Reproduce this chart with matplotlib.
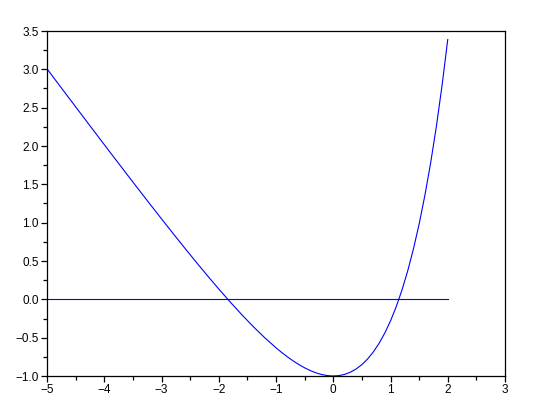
import matplotlib
matplotlib.use("Agg")
import matplotlib.pyplot as plt
from matplotlib.ticker import MultipleLocator, FuncFormatter

x_vals = [-5.0, -4.8, -4.6, -4.4, -4.2, -4.0, -3.8, -3.6, -3.4, -3.2, -3.0,
          -2.8, -2.6, -2.4, -2.2, -2.0, -1.8, -1.6, -1.4, -1.2, -1.0,
          -0.9, -0.8, -0.7, -0.6, -0.5, -0.4, -0.3, -0.2, -0.1, 0.0,
          0.1, 0.2, 0.3, 0.4, 0.5, 0.6, 0.7, 0.8, 0.9, 1.0,
          1.1, 1.2, 1.3, 1.4, 1.5, 1.6, 1.7, 1.8, 1.9, 2.0]
y_vals = [3.0067, 2.8082, 2.6101, 2.4123, 2.2150, 2.0183, 1.8224, 1.6273, 1.4334, 1.2408, 1.0498,
          0.8608, 0.6743, 0.4907, 0.3108, 0.1353, -0.0347, -0.1981, -0.3534, -0.4988, -0.6321,
          -0.6934, -0.7507, -0.8034, -0.8512, -0.8935, -0.9297, -0.9592, -0.9813, -0.9952, -1.0,
          -0.9948, -0.9786, -0.9501, -0.9082, -0.8513, -0.7779, -0.6862, -0.5745, -0.4404, -0.2817,
          -0.0958, 0.1201, 0.3693, 0.6552, 0.9817, 1.3530, 1.7739, 2.2496, 2.7859, 3.3891]
zero_x = [-5.0, 2.0]
zero_y = [0.0, 0.0]

plt.rcParams['font.family'] = ['Liberation Sans', 'DejaVu Sans']
fig = plt.figure(figsize=(5.33, 4.11), dpi=100)
ax = fig.add_axes([47/533, 1-376/411, (505-47)/533, (376-31)/411])

ax.plot(x_vals, y_vals, color=(0, 0, 1), lw=0.8)
ax.plot(zero_x, zero_y, color=(0, 0, 1), lw=0.8)

ax.set_xlim(-5, 3)
ax.set_ylim(-1, 3.5)
ax.xaxis.set_major_locator(MultipleLocator(1))
ax.xaxis.set_minor_locator(MultipleLocator(0.5))
ax.yaxis.set_major_locator(MultipleLocator(0.5))
ax.yaxis.set_minor_locator(MultipleLocator(0.25))
ax.yaxis.set_major_formatter(FuncFormatter(lambda v, p: ('%.1f' % v).replace('-', '\u2212')))
ax.xaxis.set_major_formatter(FuncFormatter(lambda v, p: ('%d' % round(v)).replace('-', '\u2212')))
for s in ax.spines.values():
    s.set_linewidth(0.9)
    s.set_color('black')
ax.tick_params(which='major', direction='out', length=4.3, width=0.9, labelsize=8.5,
               pad=1.5, top=False, right=False)
ax.tick_params(which='minor', direction='out', length=3.0, width=0.9, top=False, right=False)

fig.savefig("out.png", dpi=100)
